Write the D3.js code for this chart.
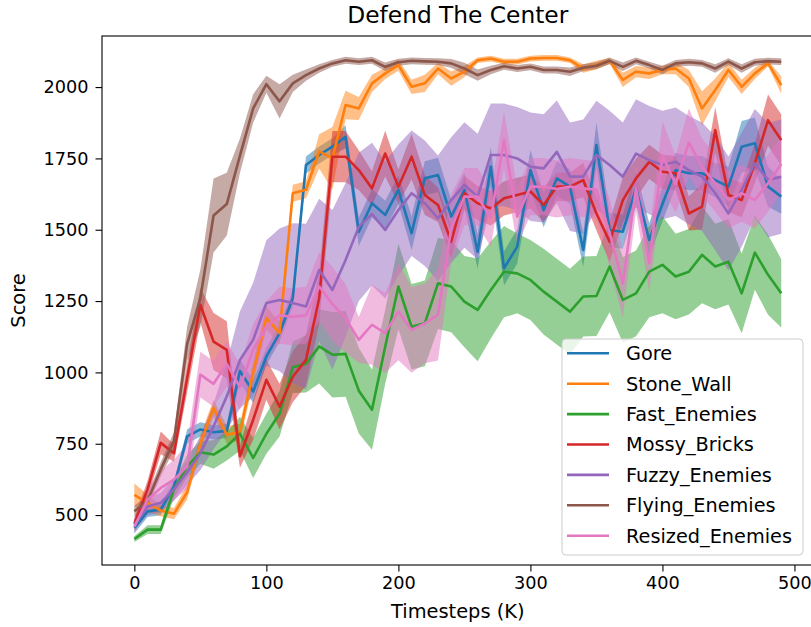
<!DOCTYPE html>
<html>
<head>
<meta charset="utf-8">
<script src="https://cdn.jsdelivr.net/npm/d3@7/dist/d3.min.js"></script>
<style>
  body { margin: 0; background: #fff; }
  text { font-family: "DejaVu Sans", sans-serif; fill: #000; }
</style>
</head>
<body>
<div id="chart"></div>
<script>
// timesteps (K)
const steps = [0, 10, 20, 30, 40, 50, 60, 70, 80, 90, 100, 110, 120, 130, 140, 150, 160, 170, 180, 190,
  200, 210, 220, 230, 240, 250, 260, 270, 280, 290, 300, 310, 320, 330, 340, 350, 360, 370, 380, 390,
  400, 410, 420, 430, 440, 450, 460, 470, 480, 490];

const names = ['Gore', 'Stone_Wall', 'Fast_Enemies', 'Mossy_Bricks', 'Fuzzy_Enemies', 'Flying_Enemies', 'Resized_Enemies'];
const colors = ['#1f77b4', '#ff7f0e', '#2ca02c', '#d62728', '#9467bd', '#8c564b', '#e377c2'];

const xTicks = [0, 100, 200, 300, 400, 500];
const yTicks = [500, 750, 1000, 1250, 1500, 1750, 2000];

// mean score per timestep, and the +/- spread of the shaded band
const goreMean = [455, 513, 519, 600, 776, 800, 790, 795, 1005, 933, 1056, 1138, 1260, 1727, 1762, 1791, 1826, 1493, 1593, 1552,
  1640, 1488, 1680, 1692, 1546, 1640, 1423, 1721, 1365, 1441, 1709, 1569, 1680, 1651, 1429, 1797, 1499, 1493, 1645, 1464,
  1590, 1709, 1698, 1698, 1674, 1651, 1791, 1803, 1651, 1616];
const goreSpread = [20, 20, 20, 20, 25, 25, 25, 25, 40, 40, 30, 30, 30, 30, 30, 30, 40, 50, 50, 50,
  50, 60, 60, 60, 60, 60, 60, 70, 60, 60, 70, 60, 60, 60, 60, 80, 60, 60, 60, 60,
  60, 60, 60, 60, 60, 70, 90, 90, 70, 60];

const stoneMean = [571, 542, 516, 505, 580, 750, 875, 782, 790, 1000, 1190, 1138, 1628, 1640, 1775, 1750, 1937, 1925, 2013, 2048,
  2077, 2001, 2013, 2065, 2030, 2054, 2094, 2100, 2089, 2089, 2100, 2102, 2102, 2094, 2065, 2077, 2092, 2025, 2054, 2048,
  2060, 2065, 2030, 1925, 1990, 2060, 2001, 2048, 2083, 2007];
const stoneSpread = [40, 30, 20, 20, 25, 30, 30, 30, 30, 40, 40, 40, 30, 30, 60, 110, 50, 40, 30, 20,
  20, 25, 30, 20, 25, 20, 10, 10, 10, 10, 10, 10, 10, 10, 15, 15, 10, 25, 20, 20,
  15, 20, 30, 60, 40, 25, 25, 20, 10, 30];

const fastMean = [416, 449, 449, 590, 671, 720, 712, 741, 785, 700, 785, 855, 1018, 1030, 1091, 1062, 1065, 936, 869, 1090,
  1301, 1160, 1172, 1312, 1301, 1248, 1219, 1289, 1353, 1347, 1324, 1283, 1248, 1213, 1266, 1268, 1371, 1254, 1277, 1353,
  1377, 1336, 1353, 1412, 1371, 1388, 1277, 1420, 1342, 1277];
const fastSpread = [10, 15, 15, 30, 40, 40, 50, 50, 60, 70, 70, 80, 90, 100, 130, 150, 150, 150, 140, 130,
  150, 150, 150, 160, 160, 160, 180, 170, 160, 140, 140, 150, 150, 150, 140, 140, 160, 150, 150, 160,
  170, 150, 150, 170, 150, 150, 140, 130, 140, 120];

const mossyMean = [470, 590, 753, 717, 980, 1237, 1108, 1079, 706, 834, 974, 880, 985, 1044, 1260, 1756, 1756, 1709, 1645, 1767,
  1651, 1756, 1622, 1587, 1458, 1628, 1593, 1575, 1610, 1622, 1634, 1587, 1651, 1651, 1674, 1557, 1458, 1604, 1680, 1738,
  1703, 1698, 1557, 1581, 1849, 1622, 1604, 1733, 1884, 1814];
const mossySpread = [20, 30, 40, 30, 50, 60, 100, 100, 40, 70, 70, 80, 90, 90, 90, 90, 90, 70, 60, 80,
  60, 80, 70, 60, 60, 60, 60, 60, 60, 60, 60, 60, 50, 50, 60, 60, 70, 80, 70, 60,
  60, 60, 60, 80, 80, 60, 60, 70, 90, 90];

const fuzzyMean = [466, 530, 543, 590, 650, 717, 811, 916, 1044, 1114, 1243, 1254, 1243, 1231, 1359, 1289, 1394, 1510, 1555, 1499,
  1569, 1628, 1593, 1540, 1604, 1657, 1616, 1762, 1762, 1750, 1721, 1715, 1773, 1686, 1686, 1762, 1727, 1686, 1767, 1744,
  1727, 1738, 1709, 1686, 1628, 1557, 1640, 1733, 1674, 1686];
const fuzzySpread = [20, 30, 35, 40, 45, 60, 80, 120, 170, 200, 220, 250, 280, 290, 250, 280, 270, 260, 250, 240,
  230, 220, 220, 220, 220, 220, 220, 180, 180, 180, 190, 190, 180, 190, 200, 190, 190, 190, 190, 190,
  190, 190, 190, 190, 200, 200, 200, 190, 200, 200];

const flyingMean = [513, 550, 660, 760, 1100, 1260, 1550, 1590, 1760, 1925, 2010, 1950, 2013, 2042, 2065, 2083, 2094, 2089, 2094, 2071,
  2087, 2092, 2090, 2089, 2083, 2065, 2042, 2060, 2073, 2065, 2071, 2060, 2060, 2054, 2068, 2075, 2092, 2071, 2092, 2077,
  2060, 2083, 2087, 2083, 2065, 2089, 2065, 2087, 2091, 2089];
const flyingSpread = [20, 20, 25, 30, 60, 100, 130, 110, 60, 50, 30, 60, 30, 20, 15, 12, 12, 12, 12, 15,
  12, 12, 12, 12, 15, 20, 20, 15, 12, 12, 12, 12, 12, 15, 12, 12, 12, 15, 12, 12,
  15, 12, 12, 12, 15, 12, 15, 12, 12, 12];

const resizedMean = [459, 554, 595, 624, 671, 992, 960, 1030, 948, 1080, 1160, 1200, 1195, 1200, 1301, 1240, 1190, 1114, 1167, 1138,
  1213, 1149, 1172, 1202, 1505, 1616, 1616, 1540, 1814, 1546, 1651, 1651, 1643, 1651, 1645, 1640, 1488, 1312, 1645, 1383,
  1760, 1660, 1805, 1720, 1663, 1604, 1628, 1604, 1663, 1730];
const resizedSpread = [20, 40, 60, 70, 80, 80, 80, 80, 80, 90, 90, 100, 100, 100, 120, 130, 120, 80, 140, 140,
  170, 150, 140, 160, 120, 100, 100, 100, 100, 100, 100, 100, 100, 100, 100, 100, 120, 120, 80, 100,
  120, 100, 120, 100, 100, 100, 100, 100, 100, 100];

const means = [goreMean, stoneMean, fastMean, mossyMean, fuzzyMean, flyingMean, resizedMean];
const spreads = [goreSpread, stoneSpread, fastSpread, mossySpread, fuzzySpread, flyingSpread, resizedSpread];

const series = names.map((name, k) => ({
  name: name,
  color: colors[k],
  values: steps.map((t, i) => ({ t: t, m: means[k][i], s: spreads[k][i] }))
}));

const width = 811, height = 627;
const plot = { left: 102, right: 813.6, top: 36, bottom: 565 };

const svg = d3.select('#chart').append('svg')
  .attr('width', width)
  .attr('height', height);

const x = d3.scaleLinear().domain([-24.5, 514.5]).range([plot.left, plot.right]);
const y = d3.scaleLinear().domain([325, 2179]).range([plot.bottom, plot.top]);

// bands first (matplotlib draws fills under all lines)
const area = d3.area()
  .x(d => x(d.t))
  .y0(d => y(d.m - d.s))
  .y1(d => y(d.m + d.s));

svg.append('g').selectAll('path')
  .data(series)
  .join('path')
    .attr('d', d => area(d.values))
    .attr('fill', d => d.color)
    .attr('fill-opacity', 0.5)
    .attr('stroke', 'none');

const line = d3.line()
  .x(d => x(d.t))
  .y(d => y(d.m));

svg.append('g').selectAll('path')
  .data(series)
  .join('path')
    .attr('d', d => line(d.values))
    .attr('fill', 'none')
    .attr('stroke', d => d.color)
    .attr('stroke-width', 2.6)
    .attr('stroke-linejoin', 'round');

// axes
const xAxis = d3.axisBottom(x).tickValues(xTicks).tickSize(6.5).tickSizeOuter(0).tickPadding(5);
const yAxis = d3.axisLeft(y).tickValues(yTicks).tickFormat(d3.format('d'))
  .tickSize(6.5).tickSizeOuter(0).tickPadding(7);

const gx = svg.append('g').attr('transform', `translate(0,${plot.bottom})`).call(xAxis);
const gy = svg.append('g').attr('transform', `translate(${plot.left},0)`).call(yAxis);
[gx, gy].forEach(g => {
  g.select('.domain').remove();
  g.selectAll('line').attr('stroke', '#000').attr('stroke-width', 1.1);
  g.selectAll('text').style('font-size', '17.7px').style('font-family', '"DejaVu Sans", sans-serif').attr('fill', '#000');
});

// spines
svg.append('rect')
  .attr('x', plot.left)
  .attr('y', plot.top)
  .attr('width', plot.right - plot.left)
  .attr('height', plot.bottom - plot.top)
  .attr('fill', 'none')
  .attr('stroke', '#000')
  .attr('stroke-width', 1.1);

// labels
svg.append('text')
  .attr('x', (plot.left + plot.right) / 2)
  .attr('y', 23)
  .attr('text-anchor', 'middle')
  .style('font-size', '23.3px')
  .text('Defend The Center');

svg.append('text')
  .attr('x', (plot.left + plot.right) / 2)
  .attr('y', 618)
  .attr('text-anchor', 'middle')
  .style('font-size', '19.4px')
  .text('Timesteps (K)');

svg.append('text')
  .attr('transform', `translate(25,${(plot.top + plot.bottom) / 2}) rotate(-90)`)
  .attr('text-anchor', 'middle')
  .style('font-size', '19.4px')
  .text('Score');

// legend
const legend = svg.append('g');
legend.append('rect')
  .attr('x', 562)
  .attr('y', 339)
  .attr('width', 241)
  .attr('height', 216)
  .attr('rx', 4)
  .attr('fill', '#fff')
  .attr('fill-opacity', 0.8)
  .attr('stroke', '#cccccc')
  .attr('stroke-width', 1);

const rows = legend.selectAll('g.row')
  .data(series)
  .join('g')
    .attr('class', 'row')
    .attr('transform', (d, i) => `translate(0,${353.3 + i * 30.4})`);

rows.append('line')
  .attr('x1', 567)
  .attr('x2', 609)
  .attr('stroke', d => d.color)
  .attr('stroke-width', 2.6);

rows.append('text')
  .attr('x', 626)
  .attr('dy', '0.36em')
  .style('font-size', '19.3px')
  .text(d => d.name);
</script>
</body>
</html>
